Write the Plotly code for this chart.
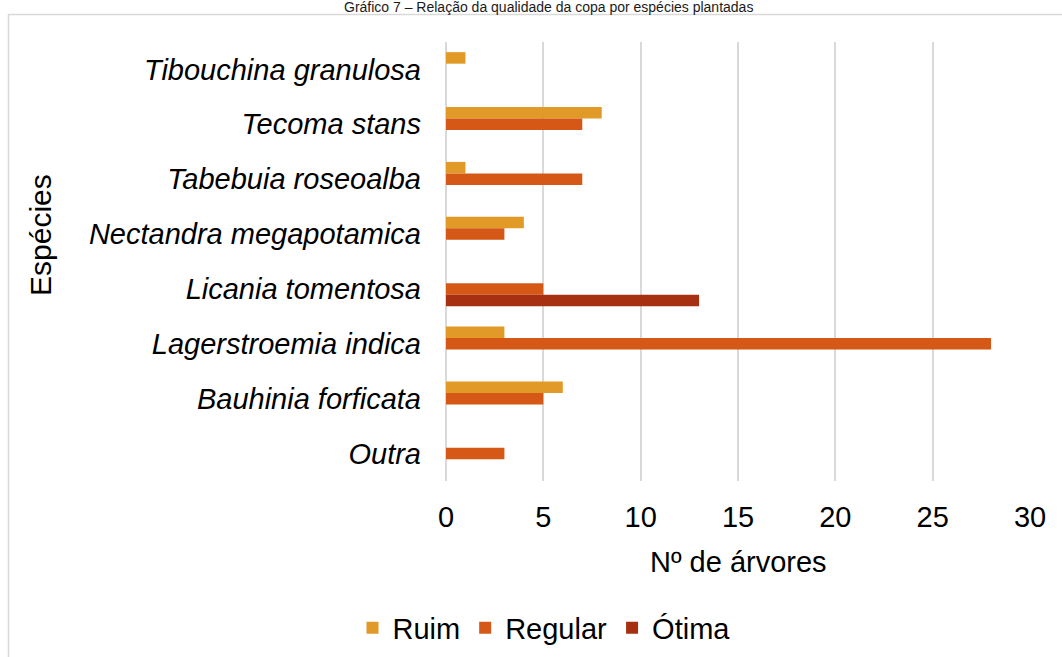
import plotly.graph_objects as go

categories = ["Tibouchina granulosa", "Tecoma stans", "Tabebuia roseoalba",
              "Nectandra megapotamica", "Licania tomentosa", "Lagerstroemia indica",
              "Bauhinia forficata", "Outra"]
ruim = [1, 8, 1, 4, None, 3, 6, None]
regular = [None, 7, 7, 3, 5, 28, 5, 3]
otima = [None, None, None, None, 13, None, None, None]
x_ticks = [0, 5, 10, 15, 20, 25, 30]

title_text = "Gráfico 7 – Relação da qualidade da copa por espécies plantadas"
x_title = "Nº de árvores"
y_title = "Espécies"

colors = {"Ruim": "#E19A28", "Regular": "#D55817", "Ótima": "#A63011"}

W, H = 1062, 657
L, R, T, B = 446, 32, 42, 176
pw, ph = W - L - R, H - T - B

def px(x):
    return (x - L) / pw

def py(y):
    return (H - B - y) / ph

FONT = "Liberation Sans, Arial, sans-serif"
FS = 29

fig = go.Figure()
for name, vals in [("Ruim", ruim), ("Regular", regular), ("Ótima", otima)]:
    fig.add_trace(go.Bar(
        name=name, y=categories, x=vals, orientation="h",
        marker=dict(color=colors[name], line=dict(width=0)),
    ))

fig.update_layout(
    width=W, height=H,
    margin=dict(l=L, r=R, t=T, b=B, autoexpand=False),
    paper_bgcolor="white", plot_bgcolor="white",
    barmode="group", bargap=0.37, bargroupgap=0,
    font=dict(family=FONT, color="#000000", size=FS),
    showlegend=True,
    legend=dict(orientation="h", x=px(544), xanchor="center", y=py(628), yanchor="middle",
                font=dict(size=FS, family=FONT, color="#000000"),
                itemsizing="constant", bgcolor="rgba(0,0,0,0)"),
    xaxis=dict(range=[0, 30], tickvals=x_ticks, showgrid=True, gridcolor="#d9d9d9",
               gridwidth=1.5, zeroline=True, zerolinecolor="#d9d9d9", zerolinewidth=1.5,
               showline=False, ticks="", tickfont=dict(size=FS, family=FONT),
               ticklabelstandoff=16, fixedrange=True),
    yaxis=dict(categoryorder="array", categoryarray=categories, autorange="reversed",
               showgrid=False, zeroline=False, showline=False, ticks="",
               tickfont=dict(size=FS, family=FONT, style="italic"),
               ticklabelstandoff=24, fixedrange=True),
    annotations=[
        dict(text=title_text, xref="paper", yref="paper", x=px(548), y=py(7),
             xanchor="center", yanchor="middle", showarrow=False,
             font=dict(size=14, family=FONT, color="#1a1a1a")),
        dict(text=x_title, xref="paper", yref="paper", x=px(738), y=py(562),
             xanchor="center", yanchor="middle", showarrow=False,
             font=dict(size=FS, family=FONT)),
        dict(text=y_title, xref="paper", yref="paper", x=px(40), y=py(235),
             xanchor="center", yanchor="middle", showarrow=False, textangle=-90,
             font=dict(size=30, family=FONT)),
    ],
    shapes=[
        dict(type="rect", xref="paper", yref="paper", x0=px(8.5), x1=px(1100),
             y0=py(700), y1=py(14.5), line=dict(color="#d9d9d9", width=1.5),
             fillcolor="rgba(0,0,0,0)", layer="below"),
    ],
)

fig.write_html("out.html",
               config={"displayModeBar": False},
               post_script="document.body.style.margin='0';document.body.style.overflow='hidden';")
